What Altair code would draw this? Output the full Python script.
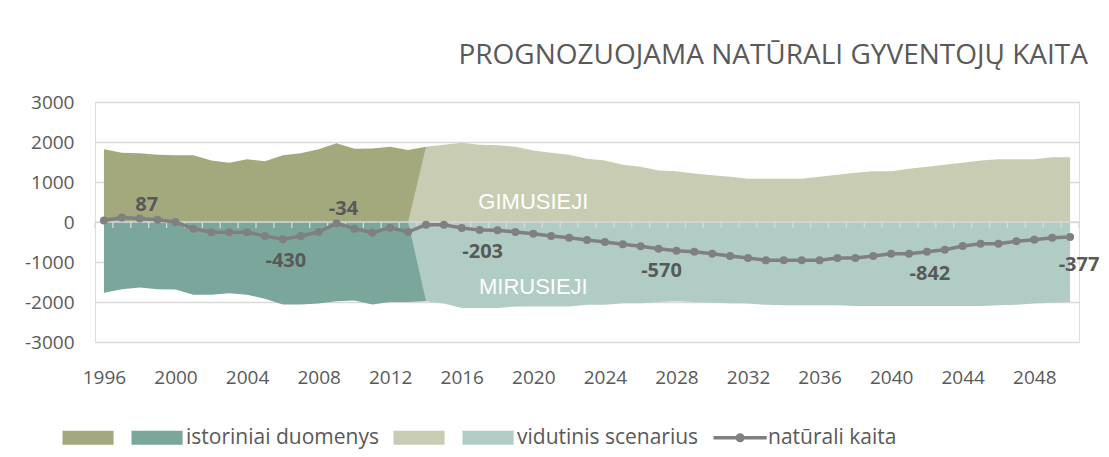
import altair as alt
import pandas as pd

# ---------------- data ----------------
hist_years = list(range(1996, 2015))
hist_births = [1820, 1730, 1720, 1680, 1670, 1670, 1540, 1480, 1570, 1520,
               1670, 1720, 1820, 1970, 1830, 1840, 1880, 1800, 1880]
hist_deaths = [-1770, -1680, -1640, -1680, -1690, -1820, -1820, -1780, -1820, -1920,
               -2060, -2060, -2040, -1980, -1960, -2060, -2000, -2000, -1980]

proj_years = list(range(2013, 2051))
proj_births = [0, 1880, 1930, 1980, 1930, 1920, 1880, 1790, 1730, 1680,
               1580, 1540, 1430, 1380, 1290, 1270, 1210, 1170, 1130, 1080,
               1080, 1080, 1080, 1130, 1180, 1230, 1270, 1270, 1330, 1380,
               1430, 1480, 1540, 1570, 1570, 1570, 1620, 1620]
proj_deaths = [0, -1980, -2040, -2150, -2150, -2150, -2110, -2110, -2110, -2110,
               -2070, -2070, -2030, -2030, -2000, -1980, -2000, -2020, -2030, -2040,
               -2070, -2080, -2080, -2080, -2080, -2100, -2100, -2100, -2100, -2100,
               -2100, -2100, -2100, -2080, -2070, -2040, -2020, -2000]

line_years = list(range(1996, 2051))
line_values = [40, 110, 87, 58, 0, -167, -258, -258, -258, -350,
               -430, -350, -250, -34, -167, -267, -142, -250, -67, -67,
               -150, -203, -208, -250, -292, -350, -392, -450, -500, -558,
               -608, -667, -717, -742, -792, -850, -900, -958, -958, -958,
               -958, -900, -900, -850, -792, -792, -742, -692, -600, -542,
               -542, -483, -442, -392, -377]

label_years = [1998, 2006, 2009, 2017, 2027, 2042, 2050]
label_texts = ["87", "-430", "-34", "-203", "-570", "-842", "-377"]
label_pos = ["above", "below", "above", "below", "below", "below", "end"]

area_texts = ["GIMUSIEJI", "MIRUSIEJI"]
area_text_years = [2020, 2020]
area_text_values = [500, -1625]

x_label_values = list(range(1996, 2049, 4))
y_values = [-3000, -2000, -1000, 0, 1000, 2000, 3000]

legend_names = ["\u200b", "istoriniai duomenys", "\u200b\u200b", "vidutinis scenarius", "natūrali kaita"]
legend_colors = ["#a3a87d", "#7aa69b", "#c8ccb2", "#b0ccc5", "#808080"]

title_text = "PROGNOZUOJAMA NATŪRALI GYVENTOJŲ KAITA"

# ---------------- tables ----------------
hist_df = pd.DataFrame({"year": hist_years, "births": hist_births, "deaths": hist_deaths})
proj_df = pd.DataFrame({"year": proj_years, "births": proj_births, "deaths": proj_deaths})
line_df = pd.DataFrame({"year": line_years, "value": line_values})
line_df["series"] = legend_names[4]
lab_df = pd.DataFrame({"year": label_years, "text": label_texts, "pos": label_pos})
lab_df = lab_df.merge(line_df[["year", "value"]], on="year", how="left")
atext_df = pd.DataFrame({"year": area_text_years, "value": area_text_values, "text": area_texts})

x_domain = [line_years[0] - 0.5, line_years[-1] + 0.5]
# category-axis crossing at zero: boundaries between categories
tick_df = pd.DataFrame({"year": [y - 0.5 for y in line_years] + [x_domain[1]]})
tick_df["zero"] = 0
tick_df["tick_end"] = -150          # tick length in data units (about 6 px)
zero_df = pd.DataFrame({"year": [x_domain[0]], "year_end": [x_domain[1]], "zero": [0]})

# ---------------- scales / axes ----------------
FONT = "Open Sans"
GREY_TXT = "#595959"
AXIS_GREY = "#d9d9d9"
x_scale = alt.Scale(domain=x_domain, nice=False, zero=False)
y_scale = alt.Scale(domain=[y_values[0], y_values[-1]], nice=False)

x_axis = alt.Axis(orient="bottom", values=x_label_values, labelExpr="'' + datum.value",
                  domain=False, ticks=False, tickSize=0, grid=False, title=None,
                  labelFont=FONT, labelFontSize=19, labelColor=GREY_TXT, labelPadding=26,
                  labelOverlap=False)
y_axis = alt.Axis(values=y_values, labelExpr="'' + datum.value", title=None,
                  domain=False, ticks=False, tickSize=0, grid=True, gridColor=AXIS_GREY,
                  gridWidth=1.3, labelFont=FONT, labelFontSize=19, labelColor=GREY_TXT,
                  labelPadding=21, labelOverlap=False)


def X(field="year"):
    return alt.X(f"{field}:Q", scale=x_scale, axis=x_axis)


def Y(field):
    return alt.Y(f"{field}:Q", scale=y_scale, axis=y_axis)


a_hb = alt.Chart(hist_df).mark_area(color=legend_colors[0]).encode(x=X(), y=Y("births"))
a_hd = alt.Chart(hist_df).mark_area(color=legend_colors[1]).encode(x=X(), y=Y("deaths"))
a_pb = alt.Chart(proj_df).mark_area(color=legend_colors[2]).encode(x=X(), y=Y("births"))
a_pd = alt.Chart(proj_df).mark_area(color=legend_colors[3]).encode(x=X(), y=Y("deaths"))

zero_line = alt.Chart(zero_df).mark_rule(color=AXIS_GREY, strokeWidth=1.5).encode(
    x=X(), x2="year_end:Q", y=Y("zero"))
zero_ticks = alt.Chart(tick_df).mark_rule(color=AXIS_GREY, strokeWidth=1.3).encode(
    x=X(), y=Y("zero"), y2="tick_end:Q")

atext = alt.Chart(atext_df).mark_text(color="white", font="Liberation Sans", fontSize=22,
                                      align="center", baseline="middle").encode(
    x=X(), y=Y("value"), text="text:N")

line = alt.Chart(line_df).mark_line(color="#808080", strokeWidth=3.5).encode(x=X(), y=Y("value"))
pts = alt.Chart(line_df).mark_circle(color="#808080", size=64, opacity=1).encode(x=X(), y=Y("value"))

rect_path = "M-1,-1H6.3V1H-1Z"
line_path = "M-1,-0.25H6.6V0.25H-1Z M3.45,0A0.65,0.65,0,1,1,2.15,0A0.65,0.65,0,1,1,3.45,0Z"
legend_shapes = [rect_path, rect_path, rect_path, rect_path, line_path]

leg = alt.Legend(orient="none", legendX=-36, legendY=325, direction="horizontal", columns=5,
                 title=None, labelFont=FONT, labelFontSize=21, labelColor=GREY_TXT,
                 labelOffset=37, columnPadding=11, symbolSize=196, symbolStrokeWidth=0,
                 symbolOpacity=1, padding=0, labelLimit=0)

driver = alt.Chart(line_df).mark_point(filled=True, opacity=0).encode(
    x=X(), y=Y("value"),
    color=alt.Color("series:N", scale=alt.Scale(domain=legend_names, range=legend_colors), legend=leg),
    shape=alt.Shape("series:N", scale=alt.Scale(domain=legend_names, range=legend_shapes), legend=leg),
)

lab_common = dict(font=FONT, fontWeight="bold", fontSize=20, color=GREY_TXT,
                  align="center", baseline="middle")
lab_above = alt.Chart(lab_df).transform_filter("datum.pos == 'above'").mark_text(
    dx=7, dy=-14, **lab_common).encode(x=X(), y=Y("value"), text="text:N")
lab_below = alt.Chart(lab_df).transform_filter("datum.pos == 'below'").mark_text(
    dx=3, dy=22, **lab_common).encode(x=X(), y=Y("value"), text="text:N")
lab_end = alt.Chart(lab_df).transform_filter("datum.pos == 'end'").mark_text(
    dx=9, dy=28, **lab_common).encode(x=X(), y=Y("value"), text="text:N")

chart = alt.layer(
    a_hb, a_hd, a_pb, a_pd, zero_line, zero_ticks, atext, line, pts, driver,
    lab_above, lab_below, lab_end
).properties(
    width=984,
    height=240,
    autosize=alt.AutoSizeParams(type="none"),
    padding={"left": 87, "top": 94, "right": 22, "bottom": 107},
    title=alt.TitleParams(title_text, anchor="end", frame="group", font=FONT, fontSize=28,
                          fontWeight="normal", color=GREY_TXT, offset=1, dx=9,
                          baseline="alphabetic"),
).configure_view(stroke=None).configure(background="white")

chart.save("out.html", embed_options={"renderer": "svg", "actions": False})
